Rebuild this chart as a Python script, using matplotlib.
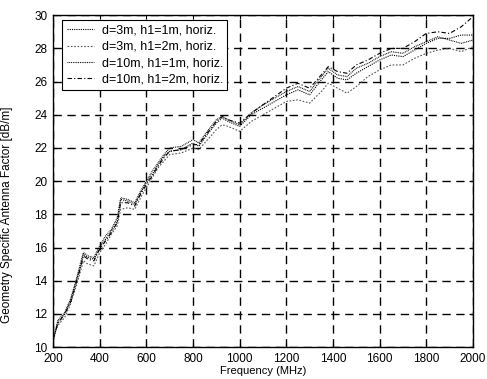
import numpy as np
from matplotlib import pyplot as plt

plt.rcParams['font.family'] = ['Liberation Sans', 'DejaVu Sans']

freq = [200, 220, 250, 275, 300, 320, 330, 350, 375, 400, 425, 450, 475, 490, 520, 550,
        575, 600, 625, 650, 675, 700, 750, 800, 825, 850, 900, 925, 950, 1000, 1050, 1100,
        1150, 1200, 1250, 1300, 1350, 1380, 1420, 1460, 1500, 1550, 1600, 1650, 1700, 1750,
        1800, 1850, 1900, 1950, 2000]

# d=3m, h1=1m
af_3m_1m = [10.4, 11.5, 12.0, 12.8, 14.0, 15.0, 15.6, 15.4, 15.3, 16.0, 16.5, 17.0, 17.6, 18.9,
            18.8, 18.6, 19.3, 19.9, 20.4, 21.0, 21.5, 21.8, 21.9, 22.3, 22.1, 22.6, 23.5, 23.8,
            23.6, 23.3, 24.0, 24.4, 24.8, 25.2, 25.5, 25.2, 26.1, 26.6, 26.2, 26.1, 26.5, 26.9,
            27.3, 27.6, 27.5, 27.9, 28.3, 28.6, 28.6, 28.8, 28.8]
# d=3m, h1=2m
af_3m_2m = [10.6, 11.3, 11.8, 12.6, 13.7, 14.7, 15.2, 15.0, 14.9, 15.7, 16.2, 16.8, 17.3, 18.3,
            18.4, 18.3, 19.0, 19.6, 20.2, 20.8, 21.2, 21.6, 21.7, 22.0, 21.9, 22.3, 23.1, 23.4,
            23.3, 23.0, 23.6, 24.0, 24.4, 24.8, 24.9, 24.7, 25.4, 25.9, 25.6, 25.3, 25.7, 26.3,
            26.7, 27.0, 27.0, 27.4, 27.7, 27.9, 28.0, 27.8, 28.1]
# d=10m, h1=1m
af_10m_1m = [10.3, 11.6, 12.1, 12.9, 14.1, 15.2, 15.7, 15.5, 15.4, 16.1, 16.7, 17.1, 17.8, 19.0,
             18.9, 18.7, 19.4, 20.0, 20.6, 21.1, 21.6, 22.0, 22.1, 22.5, 22.3, 22.8, 23.7, 23.9,
             23.7, 23.4, 24.1, 24.6, 25.0, 25.4, 25.7, 25.4, 26.3, 26.8, 26.4, 26.3, 26.8, 27.1,
             27.5, 27.8, 27.7, 28.1, 28.4, 28.7, 28.5, 28.3, 28.5]
# d=10m, h1=2m
af_10m_2m = [10.5, 11.4, 12.0, 12.7, 13.9, 14.9, 15.5, 15.3, 15.2, 15.9, 16.4, 16.9, 17.5, 18.7,
             18.7, 18.5, 19.2, 19.8, 20.3, 20.9, 21.4, 21.8, 21.9, 22.2, 22.2, 22.7, 23.6, 23.9,
             23.7, 23.5, 24.1, 24.6, 25.1, 25.6, 25.9, 25.6, 26.4, 26.9, 26.6, 26.5, 27.0, 27.3,
             27.7, 28.0, 28.0, 28.4, 28.9, 29.0, 28.9, 29.3, 29.9]

labels = ['d=3m, h1=1m, horiz.', 'd=3m, h1=2m, horiz.',
          'd=10m, h1=1m, horiz.', 'd=10m, h1=2m, horiz.']

fig = plt.figure(figsize=(4.87, 3.79), dpi=100)
ax = fig.add_axes([0.109, 0.084, 0.862, 0.876])

ax.plot(freq, af_3m_1m, color='black', lw=0.8, linestyle=(0, (1, 1)))
ax.plot(freq, af_3m_2m, color='#555555', lw=0.8, linestyle=(0, (1.5, 1.5)))
ax.plot(freq, af_10m_1m, color='black', lw=0.8, linestyle=(0, (0.8, 0.8)))
ax.plot(freq, af_10m_2m, color='black', lw=0.8, linestyle=(0, (4, 2, 1, 2)))

ax.set_xlim(200, 2000)
ax.set_ylim(10, 30)
ax.set_xticks(np.arange(200, 2001, 200))
ax.set_yticks(np.arange(10, 31, 2))
ax.grid(True, color='black', linestyle=(0, (6, 4)), lw=1.0)
ax.tick_params(direction='in', labelsize=8.5, length=3, top=True, right=True)
ax.tick_params(axis='x', pad=4)
ax.tick_params(axis='y', pad=4)
for s in ax.spines.values():
    s.set_linewidth(1.0)

ax.set_xlabel('Frequency (MHz)', fontsize=8, labelpad=1)
ax.set_ylabel('Geometry Specific Antenna Factor [dB/m]', fontsize=8.5)
ax.yaxis.set_label_coords(-0.095, 0.40)

leg = ax.legend(labels, loc='upper left', bbox_to_anchor=(0.022, 0.985), borderaxespad=0,
                fontsize=9, handlelength=2.2, handletextpad=0.6, fancybox=False, framealpha=1,
                edgecolor='black', labelspacing=0.35, borderpad=0.35)
leg.get_frame().set_linewidth(0.8)

fig.savefig('out.png', dpi=100)
